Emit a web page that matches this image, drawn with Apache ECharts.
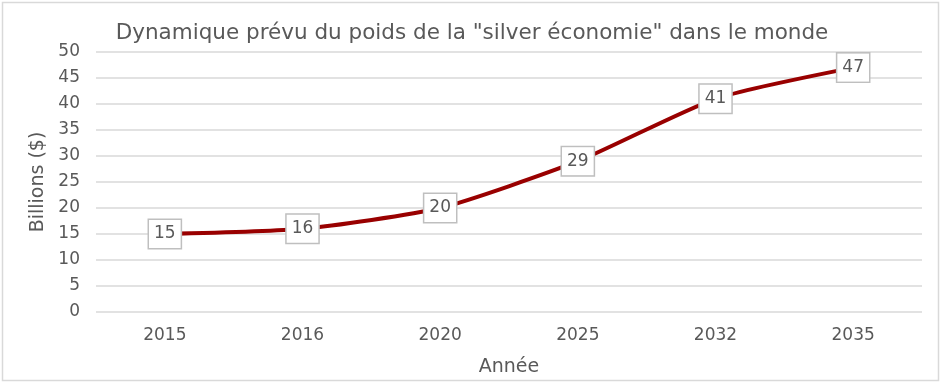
<!DOCTYPE html>
<html><head><meta charset="utf-8">
<script src="https://cdn.jsdelivr.net/npm/echarts@6/dist/echarts.min.js"></script>
<style>html,body{margin:0;padding:0;background:#fff}#c{width:944px;height:384px}</style>
</head><body><div id="c"></div>
<script>
const categories = ['2015','2016','2020','2025','2032','2035'];
const values = [15, 16, 20, 29, 41, 47];
const yTicks = {min:0, max:50, interval:5};
const FONT = '"DejaVu Sans", sans-serif';
const chart = echarts.init(document.getElementById('c'));
chart.setOption({
  animation:false,
  backgroundColor:'#fff',
  graphic:[{type:'rect',shape:{x:2.5,y:2.5,width:936,height:378},style:{fill:'none',stroke:'#d9d9d9',lineWidth:1.5},silent:true}],
  title:{text:'Dynamique prévu du poids de la "silver économie" dans le monde',left:'center',top:17,
    textStyle:{fontFamily:FONT,fontSize:21.5,fontWeight:'normal',color:'#595959'}},
  grid:{left:96,right:22,top:52,bottom:72},
  xAxis:{type:'category',data:categories,boundaryGap:true,
    name:'Année',nameLocation:'middle',nameGap:46,
    nameTextStyle:{fontFamily:FONT,fontSize:19,color:'#595959'},
    axisLine:{show:false},axisTick:{show:false},
    axisLabel:{fontFamily:FONT,fontSize:17,color:'#595959',margin:15}},
  yAxis:{type:'value',min:yTicks.min,max:yTicks.max,interval:yTicks.interval,
    name:'Billions ($)',nameLocation:'middle',nameGap:46,nameRotate:90,
    nameTextStyle:{fontFamily:FONT,fontSize:19,color:'#595959'},
    axisLine:{show:false},axisTick:{show:false},
    splitLine:{lineStyle:{color:'#d9d9d9',width:1.5}},
    axisLabel:{fontFamily:FONT,fontSize:17,color:'#595959',margin:16}},
  series:[{type:'line',data:values,smooth:0.2,symbol:'circle',symbolSize:1,showSymbol:true,
    itemStyle:{color:'#990000',opacity:0},
    lineStyle:{color:'#990000',width:4},
    label:{show:true,position:'inside',fontFamily:FONT,fontSize:17,color:'#595959',opacity:1,
      backgroundColor:'#fff',borderColor:'#bfbfbf',borderWidth:1.5,padding:[6,5,5,5]}}]
});
</script></body></html>
